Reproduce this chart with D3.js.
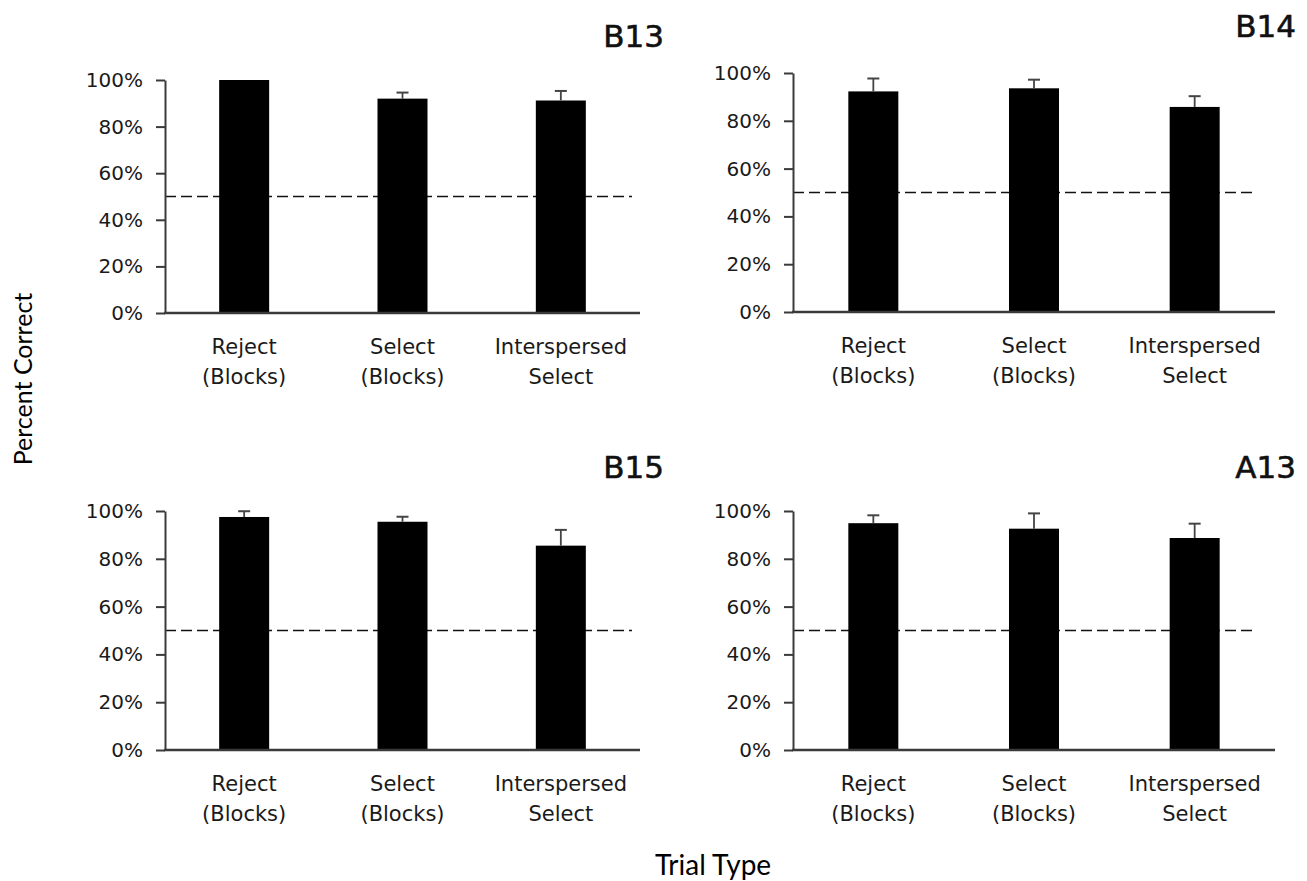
<!DOCTYPE html>
<html>
<head>
<meta charset="utf-8">
<script src="https://cdn.jsdelivr.net/npm/d3@7/dist/d3.min.js"></script>
<style>
  html, body { margin: 0; padding: 0; background: #fff; }
  svg { display: block; }
</style>
</head>
<body>
<svg id="chart" width="1307" height="881"></svg>
<script>
// Subjects, trial types and per-subject accuracy (mean and error, in %)
const subjects = ["B13", "B14", "B15", "A13"];
const trialTypes = ["Reject (Blocks)", "Select (Blocks)", "Interspersed Select"];
const trialLabelLines = [["Reject", "(Blocks)"], ["Select", "(Blocks)"], ["Interspersed", "Select"]];

const meanB13 = [100, 92.0, 91.2];
const errB13  = [0, 2.6, 4.1];
const meanB14 = [92.3, 93.6, 85.8];
const errB14  = [5.4, 3.6, 4.5];
const meanB15 = [97.5, 95.5, 85.5];
const errB15  = [2.4, 2.1, 6.6];
const meanA13 = [94.9, 92.6, 88.7];
const errA13  = [3.3, 6.4, 6.0];

const chanceLevel = 50;
const yTicks = [0, 20, 40, 60, 80, 100];

const series = {
  B13: { mean: meanB13, err: errB13 },
  B14: { mean: meanB14, err: errB14 },
  B15: { mean: meanB15, err: errB15 },
  A13: { mean: meanA13, err: errA13 }
};

// Panel frames in page pixels
const frames = {
  B13: { x0: 165, x1: 640,  yTop: 80,  yBot: 313, dashEnd: 632,  titleX: 664,  titleY: 47 },
  B14: { x0: 793, x1: 1275, yTop: 73,  yBot: 312, dashEnd: 1255, titleX: 1296, titleY: 37 },
  B15: { x0: 165, x1: 640,  yTop: 511, yBot: 750, dashEnd: 632,  titleX: 664,  titleY: 478 },
  A13: { x0: 793, x1: 1275, yTop: 511, yBot: 750, dashEnd: 1255, titleX: 1296, titleY: 478 }
};

const svg = d3.select("#chart");
const tickFont = "'DejaVu Sans', Verdana, sans-serif";
const labelFont = "Lato, 'Open Sans', sans-serif";
const axisColor = "#3a3a3a";

subjects.forEach(name => {
  const f = frames[name];
  const d = series[name];
  const g = svg.append("g");

  const x = d3.scalePoint().domain(trialTypes).range([f.x0, f.x1]).padding(0.5);
  const y = d3.scaleLinear().domain([0, 100]).range([f.yBot, f.yTop]);
  const barW = 50;

  // chance line (drawn first so the bars sit over it)
  g.append("line")
    .attr("x1", f.x0).attr("x2", f.dashEnd)
    .attr("y1", y(chanceLevel)).attr("y2", y(chanceLevel))
    .attr("stroke", "#111").attr("stroke-width", 1.5)
    .attr("stroke-dasharray", "11,5");

  // bars
  g.selectAll("rect.bar").data(trialTypes).join("rect")
    .attr("class", "bar")
    .attr("x", t => x(t) - barW / 2)
    .attr("width", barW)
    .attr("y", (t, i) => y(d.mean[i]))
    .attr("height", (t, i) => y(0) - y(d.mean[i]))
    .attr("fill", "#000");

  // upper error bars
  const eb = g.selectAll("g.err").data(trialTypes.filter((t, i) => d.err[i] > 0)).join("g").attr("class", "err");
  const top = t => { const i = trialTypes.indexOf(t); return y(d.mean[i] + d.err[i]); };
  eb.append("line")
    .attr("x1", t => x(t)).attr("x2", t => x(t))
    .attr("y1", t => y(d.mean[trialTypes.indexOf(t)]))
    .attr("y2", top)
    .attr("stroke", "#444").attr("stroke-width", 1.8);
  eb.append("line")
    .attr("x1", t => x(t) - 6).attr("x2", t => x(t) + 6)
    .attr("y1", top).attr("y2", top)
    .attr("stroke", "#444").attr("stroke-width", 2);

  // y axis
  const yAxis = g.append("g")
    .attr("transform", `translate(${f.x0},0)`)
    .call(d3.axisLeft(y).tickValues(yTicks).tickFormat(v => v + "%").tickSize(9).tickSizeOuter(0).tickPadding(13));
  yAxis.select(".domain").attr("stroke", axisColor).attr("stroke-width", 2);
  yAxis.selectAll(".tick line").attr("stroke", axisColor).attr("stroke-width", 2);
  yAxis.selectAll(".tick text")
    .attr("font-family", tickFont).attr("font-size", 20).attr("fill", "#1a1a1a");

  // x axis baseline
  g.append("line")
    .attr("x1", f.x0 - 1).attr("x2", f.x1)
    .attr("y1", f.yBot).attr("y2", f.yBot)
    .attr("stroke", axisColor).attr("stroke-width", 2.5);

  // category labels (two lines each)
  const lab = g.selectAll("text.cat").data(trialTypes).join("text")
    .attr("class", "cat")
    .attr("text-anchor", "middle")
    .attr("font-family", tickFont).attr("font-size", 21).attr("fill", "#1a1a1a");
  lab.each(function(t, i) {
    const el = d3.select(this);
    trialLabelLines[i].forEach((line, k) => {
      el.append("tspan").attr("x", x(t)).attr("y", f.yBot + 41 + k * 30).text(line);
    });
  });

  // panel title
  g.append("text")
    .attr("x", f.titleX).attr("y", f.titleY)
    .attr("text-anchor", "end")
    .attr("font-family", tickFont).attr("font-size", 31)
    .attr("fill", "#111").attr("stroke", "#111").attr("stroke-width", 0.6)
    .text(name);
});

// shared axis titles
svg.append("text")
  .attr("transform", "translate(32,379) rotate(-90)")
  .attr("text-anchor", "middle")
  .attr("font-family", labelFont).attr("font-size", 25).attr("fill", "#000")
  .text("Percent Correct");

svg.append("text")
  .attr("x", 713).attr("y", 875)
  .attr("text-anchor", "middle")
  .attr("font-family", labelFont).attr("font-size", 28).attr("fill", "#000")
  .text("Trial Type");
</script>
</body>
</html>
